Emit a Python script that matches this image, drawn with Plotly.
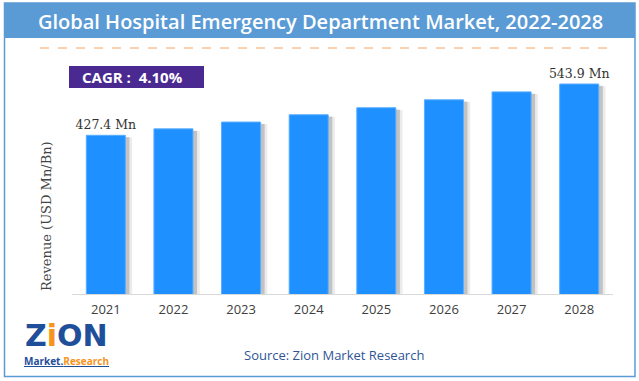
import plotly.graph_objects as go

years = ["2021", "2022", "2023", "2024", "2025", "2026", "2027", "2028"]
revenue = [427.4, 442.0, 457.5, 474.0, 490.0, 508.0, 526.0, 543.9]
labels = ["427.4 Mn", "", "", "", "", "", "", "543.9 Mn"]
title_text = "Global Hospital Emergency Department Market, 2022-2028"
cagr_text = "CAGR :  4.10%"
source_text = "Source: Zion Market Research"
y_title = "Revenue (USD Mn/Bn)"

W, H = 639, 381
L, R, T, B = 72, 26, 70, 87
PW, PH = W - L - R, H - T - B
bw = 0.577


def px(x):
    return (x - L) / PW


def py(y):
    return (H - B - y) / PH


fig = go.Figure()
# soft shadows
fig.add_trace(go.Bar(x=list(range(len(years))), y=[v - 5 for v in revenue], width=bw, offset=-bw / 2 + 0.10,
                     marker=dict(color="rgba(90,90,90,0.12)", line=dict(width=0)), hoverinfo="skip", showlegend=False))
fig.add_trace(go.Bar(x=list(range(len(years))), y=[v - 4 for v in revenue], width=bw, offset=-bw / 2 + 0.06,
                     marker=dict(color="rgba(90,90,90,0.28)", line=dict(width=0)), hoverinfo="skip", showlegend=False))
fig.add_trace(go.Bar(x=list(range(len(years))), y=revenue, width=bw, offset=-bw / 2,
                     marker=dict(color="#1E90FF", line=dict(color="#5AAEFF", width=1)),
                     text=labels, textposition="outside", cliponaxis=False, constraintext="none",
                     textfont=dict(family="DejaVu Serif", size=12.5, color="#333333"),
                     showlegend=False))

fig.update_layout(
    width=W, height=H, barmode="overlay",
    margin=dict(l=L, r=R, t=T, b=B, autoexpand=False),
    paper_bgcolor="white", plot_bgcolor="white",
    xaxis=dict(tickmode="array", tickvals=list(range(len(years))), ticktext=years,
               range=[-0.5, len(years) - 0.5], showgrid=False, zeroline=False, automargin=False,
               showline=True, linecolor="#D9D9D9", linewidth=1, ticks="", ticklabelstandoff=3,
               tickfont=dict(family="Open Sans", size=13, color="#404040")),
    yaxis=dict(range=[67, 575.7], showgrid=False, zeroline=False, showticklabels=False,
               showline=False, automargin=False),
    shapes=[
        dict(type="rect", xref="paper", yref="paper", x0=px(4.5), x1=px(635),
             y0=py(376.5), y1=py(3), line=dict(color="#5B9BD5", width=1.5),
             fillcolor="rgba(0,0,0,0)", layer="below"),
        dict(type="rect", xref="paper", yref="paper", x0=px(5), x1=px(635),
             y0=py(38), y1=py(3), line=dict(width=0), fillcolor="#5B9BD5", layer="below"),
        dict(type="line", xref="paper", yref="paper", x0=px(40), x1=px(607),
             y0=py(48), y1=py(48), line=dict(color="#F4A460", width=1, dash="dash")),
        dict(type="rect", xref="paper", yref="paper", x0=px(69), x1=px(204),
             y0=py(88), y1=py(66), line=dict(width=0), fillcolor="#4A2A91"),
    ],
    annotations=[
        dict(text=title_text, xref="paper", yref="paper", x=px(320), y=py(21),
             showarrow=False, font=dict(family="Open Sans", size=20, color="white", weight=600),
             xanchor="center", yanchor="middle"),
        dict(text="<b>" + cagr_text + "</b>", xref="paper", yref="paper", x=px(132),
             y=py(77), showarrow=False, font=dict(family="Open Sans", size=15, color="white"),
             xanchor="center", yanchor="middle"),
        dict(text=y_title, xref="paper", yref="paper", x=px(46), y=py(216), textangle=-90,
             showarrow=False, font=dict(family="DejaVu Serif", size=13, color="#444444"),
             xanchor="center", yanchor="middle"),
        dict(text=source_text, xref="paper", yref="paper", x=px(334), y=py(355),
             showarrow=False, font=dict(family="Open Sans", size=13, color="#2F5597"),
             xanchor="center", yanchor="middle"),
        dict(text="<b><span style='color:#1F4E9A'>Z</span><span style='color:#F7941D'>i</span>"
                  "<span style='color:#1F4E9A'>ON</span></b>",
             xref="paper", yref="paper", x=px(66), y=py(335), showarrow=False,
             font=dict(family="DejaVu Sans", size=30, color="#1F4E9A"), xanchor="center", yanchor="middle"),
        dict(text="<b><u><span style='color:#1F4E9A'>Market.</span><span style='color:#F7941D'>Research</span></u></b>",
             xref="paper", yref="paper", x=px(66), y=py(361), showarrow=False,
             font=dict(family="Open Sans", size=10, color="#1F4E9A"), xanchor="center", yanchor="middle"),
    ],
)

fig.write_html("out.html", config={"displayModeBar": False},
               post_script="document.body.style.margin='0';document.body.style.overflow='hidden';")
